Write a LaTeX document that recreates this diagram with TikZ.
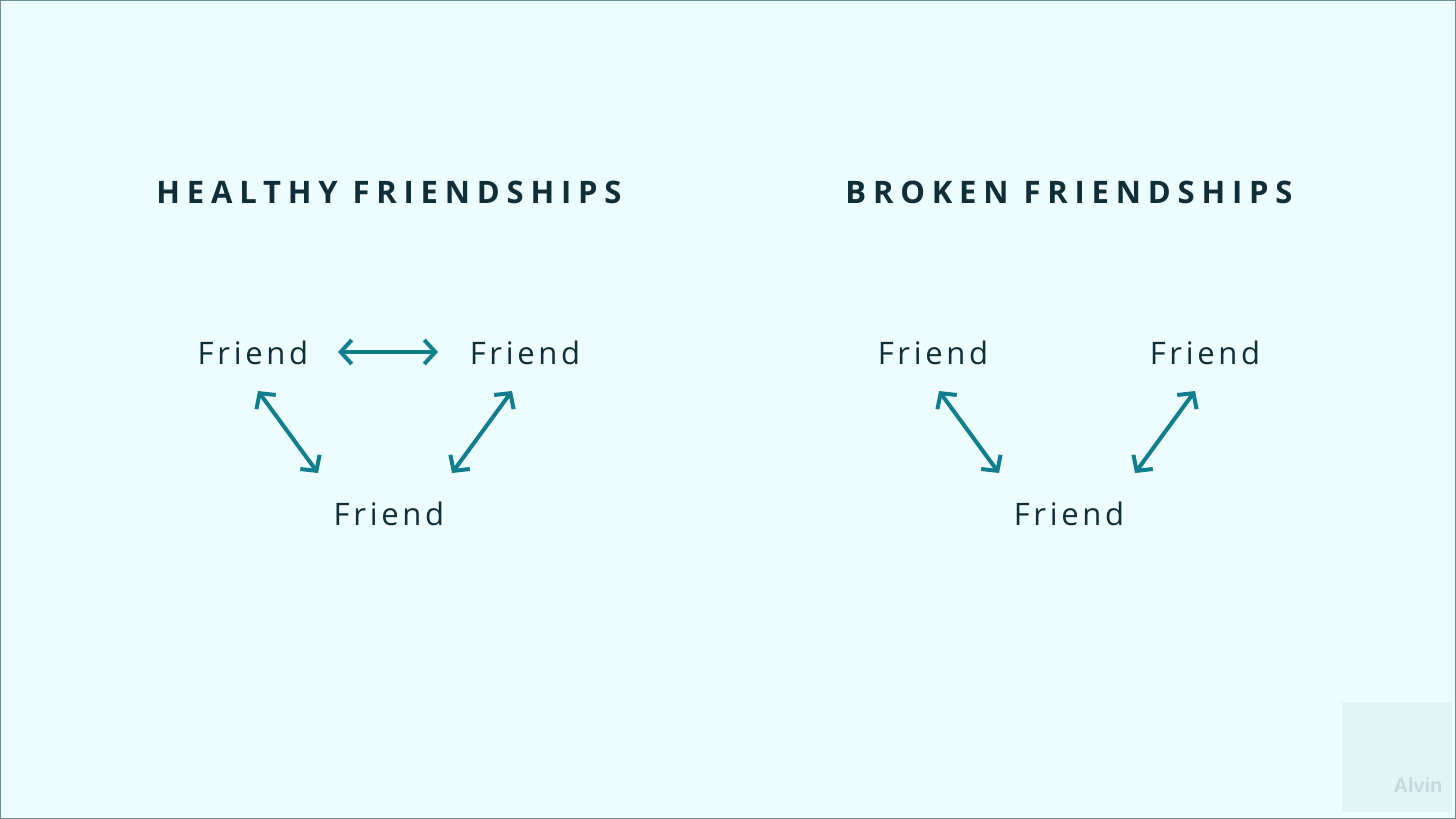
\documentclass[tikz,border=0pt]{standalone}
\usepackage{fontspec}
\usetikzlibrary{arrows.meta}
\newfontfamily\frfont[LetterSpace=12]{Open Sans}
\newfontfamily\ttlfont[LetterSpace=22]{Open Sans Bold}
\newfontfamily\wmfont{Liberation Sans}
\definecolor{bgc}{HTML}{EDFCFC}
\definecolor{txtc}{HTML}{0F2E38}
\definecolor{arrc}{HTML}{117E8D}
\definecolor{wmbg}{HTML}{E2F4F5}
\definecolor{wmtx}{HTML}{C3DADF}
\definecolor{frame}{HTML}{6E8E98}
\begin{document}
\begin{tikzpicture}[x=1pt,y=-1pt,
  friend/.style={font=\frfont\fontsize{31}{36}\selectfont,text=txtc,inner sep=0pt},
  ttl/.style={font=\ttlfont\fontsize{31}{36}\selectfont,text=txtc,inner sep=0pt},
  link/.style={draw=arrc,line width=4pt,{Straight Barb[length=11pt,width=24pt,line width=4pt]}-{Straight Barb[length=11pt,width=24pt,line width=4pt]}}]
\fill[bgc] (0,0) rectangle (1456,819);
\draw[frame,line width=1pt] (0.5,0.5) rectangle (1455.5,818.5);
\useasboundingbox (0,0) rectangle (1456,819);
\fill[wmbg] (1342,702) rectangle (1452,812);
\node[font=\wmfont\bfseries\fontsize{20}{22}\selectfont,text=wmtx] (wm) at (1418,785) {Alvin};
% titles
\node[ttl] (t1) at (389,192) {HEALTHY FRIENDSHIPS};
\node[ttl] (t2) at (1069,192) {BROKEN FRIENDSHIPS};
% left
\node[friend] (a) at (253,353) {Friend};
\node[friend] (b) at (525,353) {Friend};
\node[friend] (c) at (389,514) {Friend};
\coordinate (ab1) at (338,352); \coordinate (ab2) at (438,352);
\coordinate (ac1) at (258,391); \coordinate (ac2) at (318,473);
\coordinate (bc1) at (512,391); \coordinate (bc2) at (452,473);
\draw[link] (ab1) -- (ab2);
\draw[link] (ac1) -- (ac2);
\draw[link] (bc1) -- (bc2);
% right
\node[friend] (d) at (933,353) {Friend};
\node[friend] (e) at (1205,353) {Friend};
\node[friend] (f) at (1069,514) {Friend};
\coordinate (df1) at (939,391); \coordinate (df2) at (999,473);
\coordinate (ef1) at (1195,391); \coordinate (ef2) at (1135,473);
\draw[link] (df1) -- (df2);
\draw[link] (ef1) -- (ef2);
\end{tikzpicture}
\end{document}
